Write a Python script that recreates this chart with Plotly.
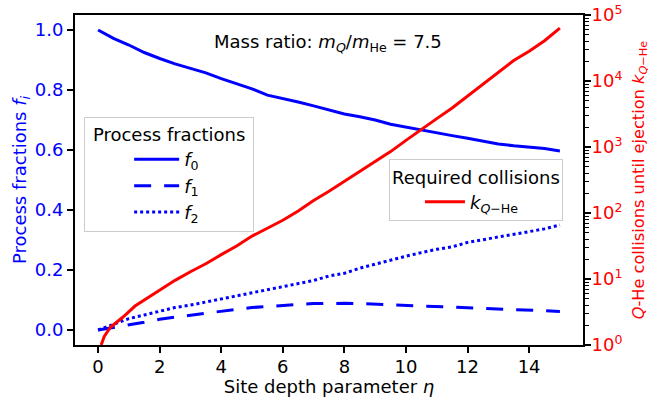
import plotly.graph_objects as go

# ---- data ----
eta = [0.0, 0.5, 1.0, 1.5, 2.0, 2.5, 3.0, 3.5, 4.0, 4.5, 5.0, 5.5, 6.0, 6.5, 7.0, 7.5,
       8.0, 8.5, 9.0, 9.5, 10.0, 10.5, 11.0, 11.5, 12.0, 12.5, 13.0, 13.5, 14.0, 14.5, 15.0]
f0 = [1.000, 0.972, 0.950, 0.925, 0.905, 0.887, 0.872, 0.857, 0.838, 0.821, 0.804, 0.783,
      0.772, 0.760, 0.747, 0.733, 0.720, 0.711, 0.700, 0.686, 0.676, 0.666, 0.658, 0.648,
      0.639, 0.629, 0.620, 0.614, 0.610, 0.605, 0.597]
f1 = [0.000, 0.008, 0.018, 0.026, 0.036, 0.043, 0.050, 0.056, 0.063, 0.069, 0.075, 0.079,
      0.083, 0.085, 0.088, 0.089, 0.089, 0.088, 0.086, 0.084, 0.083, 0.080, 0.077, 0.075,
      0.073, 0.071, 0.069, 0.068, 0.066, 0.064, 0.062]
f2 = [0.000, 0.020, 0.038, 0.050, 0.063, 0.075, 0.083, 0.093, 0.104, 0.115, 0.124, 0.134,
      0.145, 0.155, 0.165, 0.180, 0.189, 0.206, 0.220, 0.233, 0.246, 0.258, 0.269, 0.277,
      0.292, 0.301, 0.310, 0.319, 0.328, 0.337, 0.350]

eta_k = [0.1, 0.2, 0.4, 0.8, 1.2, 1.6, 2.0, 2.5, 3.0, 3.5, 4.0, 4.5, 5.0, 5.5, 6.0, 6.5,
         7.0, 7.5, 8.0, 8.5, 9.0, 9.5, 10.0, 10.5, 11.0, 11.5, 12.0, 12.5, 13.0, 13.5,
         14.0, 14.5, 15.0]
k_qhe = [1.0, 1.35, 1.86, 2.63, 3.89, 5.13, 6.61, 9.55, 12.9, 17.0, 23.4, 31.6, 44.7,
         58.9, 77.6, 107, 155, 214, 302, 427, 603, 851, 1259, 1862, 2692, 3890, 5888,
         8913, 13800, 20400, 28200, 40700, 63100]

x_ticks = [0, 2, 4, 6, 8, 10, 12, 14]
y_ticks = [0.0, 0.2, 0.4, 0.6, 0.8, 1.0]
k_ticks = [1, 10, 100, 1000, 10000, 100000]
k_tick_text = ["10<sup>0</sup>", "10<sup>1</sup>", "10<sup>2</sup>",
               "10<sup>3</sup>", "10<sup>4</sup>", "10<sup>5</sup>"]

FONT = "DejaVu Sans"
FS = 18
BLUE = "#0000ff"
RED = "#ff0000"

minor_k = [m * 10 ** d for d in range(0, 5) for m in range(2, 10)]

fig = go.Figure()
fig.add_trace(go.Scatter(x=eta, y=f0, mode="lines", name="<i>f</i><sub>0</sub>",
                         line=dict(color=BLUE, width=3), legend="legend"))
fig.add_trace(go.Scatter(x=eta, y=f1, mode="lines", name="<i>f</i><sub>1</sub>",
                         line=dict(color=BLUE, width=3, dash="17px,13px"), legend="legend"))
fig.add_trace(go.Scatter(x=eta, y=f2, mode="lines", name="<i>f</i><sub>2</sub>",
                         line=dict(color=BLUE, width=3, dash="3px,3px"), legend="legend"))
fig.add_trace(go.Scatter(x=eta_k, y=k_qhe, mode="lines", yaxis="y2",
                         name="<i>k</i><sub><i>Q</i>\u2212He</sub>",
                         line=dict(color=RED, width=3), legend="legend2"))

axis_common = dict(showline=True, linecolor="black", linewidth=2, ticks="outside",
                   ticklen=6, tickwidth=1.5, tickcolor="black", showgrid=False,
                   zeroline=False, automargin=False)

fig.update_layout(
    width=653, height=397,
    margin=dict(l=75, r=70, t=15, b=52, autoexpand=False),
    paper_bgcolor="white", plot_bgcolor="white",
    font=dict(family=FONT, size=FS, color="black"),
    xaxis=dict(range=[-0.75, 15.75], tickvals=x_ticks, mirror=True,
               ticklabelstandoff=-2,
               title=dict(text="Site depth parameter <i>η</i>", font=dict(size=FS), standoff=0),
               tickfont=dict(size=FS), **axis_common),
    yaxis=dict(range=[-0.05, 1.05], tickvals=y_ticks, tickformat=".1f",
               tickfont=dict(size=FS, color=BLUE),
               title=dict(text="Process fractions <i>f<sub>i</sub></i>",
                          font=dict(size=FS, color=BLUE), standoff=3),
               **axis_common),
    yaxis2=dict(overlaying="y", side="right", type="log", range=[0, 5],
                tickvals=k_ticks, ticktext=k_tick_text,
                tickfont=dict(size=FS, color=RED),
                ticklabelstandoff=-3,
                title=dict(text="<i>Q</i>-He collisions until ejection <i>k</i><sub><i>Q</i>\u2212He</sub>",
                           font=dict(size=16.2, color=RED), standoff=11),
                minor=dict(ticks="outside", ticklen=3.5, tickwidth=1.2, tickcolor="black",
                           tickvals=minor_k),
                **axis_common),
    legend=dict(x=0.018, y=0.692, xanchor="left", yanchor="top",
                bgcolor="rgba(255,255,255,0.8)", bordercolor="#cccccc", borderwidth=1,
                title=dict(text="\u00a0Process fractions\u00a0", font=dict(size=FS),
                           side="top center"),
                font=dict(size=FS), indentation=44, itemwidth=45),
    legend2=dict(x=0.618, y=0.563, xanchor="left", yanchor="top",
                 bgcolor="rgba(255,255,255,0.8)", bordercolor="#cccccc", borderwidth=1,
                 title=dict(text="Required collisions", font=dict(size=FS), side="top center"),
                 font=dict(size=FS), indentation=30, itemwidth=40),
    showlegend=True,
    annotations=[dict(x=0.498, y=0.915, xref="paper", yref="paper", showarrow=False,
                      text="Mass ratio: <i>m</i><sub><i>Q</i></sub>/<i>m</i><sub>He</sub> = 7.5",
                      font=dict(size=FS), xanchor="center", yanchor="middle")],
)

fig.write_html("out.html", config={"displayModeBar": False},
               post_script="document.body.style.margin='0';document.body.style.overflow='hidden';")
